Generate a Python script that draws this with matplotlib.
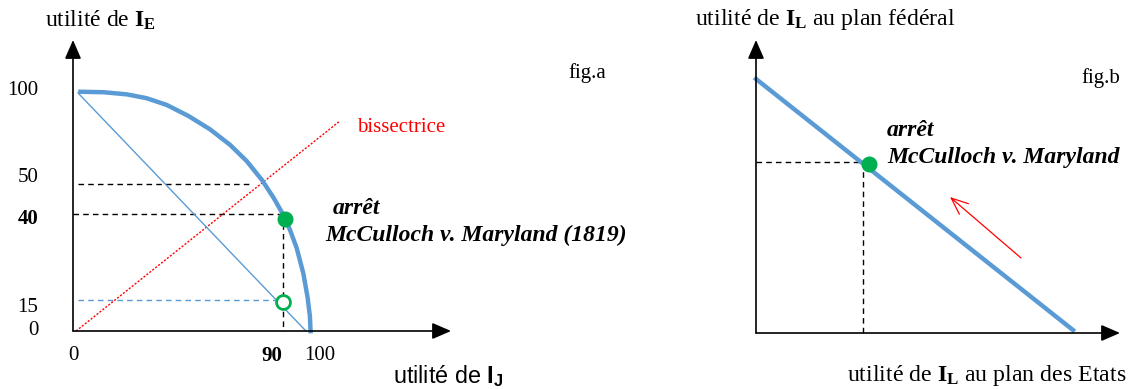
import matplotlib
matplotlib.use("Agg")
import matplotlib.pyplot as plt
from matplotlib.patches import ArrowStyle

plt.rcParams['mathtext.fontset'] = 'custom'
plt.rcParams['mathtext.rm'] = 'Liberation Serif'
plt.rcParams['mathtext.bf'] = 'Liberation Serif:bold'
plt.rcParams['mathtext.sf'] = 'Liberation Sans:bold'
SERIF = 'Liberation Serif'
SANS = 'Liberation Sans'

# ---------------- data (diagram units) ----------------
# fig.a : possibility frontier (utility of I_J, utility of I_E)
frontier_x = [2.2, 12.8, 22.8, 31.2, 39.7, 48.9, 58.1, 66.5, 73.6, 80.0, 85.0, 89.1,
              92.0, 94.8, 97.6, 99.4, 100.4, 100.7]
frontier_y = [99.7, 99.5, 98.6, 97.0, 94.2, 89.6, 84.0, 77.6, 70.8, 63.0, 55.5, 48.4,
              42.0, 34.5, 24.0, 14.0, 6.0, -1.0]
chord_x = [2.1, 98.7]
chord_y = [99.2, 0.0]
bisect_x = [1.3, 113.1]
bisect_y = [0.0, 87.5]
level50_y = 61.25
level40_y = 48.75
level15_y = 12.9
point_x = 89.0
mcc_point = (89.8, 46.7)
open_point = (89.0, 12.1)
yticks_a = [101.25, 65.0, 47.5, 10.8, 1.25]
ylabels_a = ['100', '50', '40', '15', '0']
xticks_a = [0.0, 84.3, 104.7]
xlabels_a = ['0', '90', '100']

# fig.b : federal vs states utility line
line_b_x = [0.0, 87.1]
line_b_y = [86.7, 1.0]
mcc_b_point = (31.0, 57.7)
mcc_b_dash = (29.4, 58.4)
move_from = (72.8, 25.6)
move_to = (53.3, 46.4)

BLUE = '#5B9BD5'
GREEN = '#00B050'
RED = '#FF0000'

W, H = 1136, 389
fig = plt.figure(figsize=(W / 100, H / 100), dpi=100)


def rect(x0, y0, x1, y1):
    return [x0 / W, 1 - y1 / H, (x1 - x0) / W, (y1 - y0) / H]


def axis_arrows(ax, xmax, ymax):
    st = ArrowStyle('-|>', head_length=11.5, head_width=5)
    for end in [(xmax, 0), (0, ymax)]:
        ax.annotate('', xy=end, xytext=(0, 0), xycoords='data',
                    arrowprops=dict(arrowstyle=st, color='black', lw=1.2,
                                    shrinkA=0, shrinkB=0, mutation_scale=1),
                    annotation_clip=False)


# ---------------- fig.a ----------------
axa = fig.add_axes(rect(73, 40, 451, 331))
xa_max, ya_max = (451 - 73) / 2.36, (331 - 40) / 2.4
axa.set_xlim(0, xa_max)
axa.set_ylim(0, ya_max)
for s in axa.spines.values():
    s.set_visible(False)
axa.patch.set_alpha(0)
axa.set_yticks(yticks_a)
axa.set_yticklabels(ylabels_a)
axa.set_xticks(xticks_a)
axa.set_xticklabels(xlabels_a)
axa.tick_params(axis='y', length=0, pad=25)
axa.tick_params(axis='x', length=0, pad=11)
for lab in axa.get_yticklabels() + axa.get_xticklabels():
    lab.set_fontfamily(SERIF)
    lab.set_fontsize(15)
    if lab.get_text() in ('40', '90'):
        lab.set_fontweight('bold')

axa.plot([2.1, 76.3], [level50_y, level50_y], ls=(0, (4, 3)), color='black', lw=1, clip_on=False)
axa.plot([0, point_x], [level40_y, level40_y], ls=(0, (4, 3)), color='black', lw=1, clip_on=False)
axa.plot([point_x, point_x], [level40_y, 0], ls=(0, (4, 3)), color='black', lw=1, clip_on=False)
axa.plot([2.1, 85.6], [level15_y, level15_y], ls=(0, (4, 3)), color=BLUE, lw=1, clip_on=False)
axa.plot(bisect_x, bisect_y, ls=(0, (1.5, 1.2)), color=RED, lw=1, clip_on=False)
axa.plot(chord_x, chord_y, color=BLUE, lw=1, clip_on=False)
axa.plot(frontier_x, frontier_y, color=BLUE, lw=3.2, clip_on=False,
         solid_capstyle='butt', solid_joinstyle='round')
axis_arrows(axa, xa_max, ya_max)
axa.plot(*mcc_point, marker='o', ms=10.5, color=GREEN, clip_on=False)
axa.plot(*open_point, marker='o', ms=10, mfc='white', mec=GREEN, mew=2, clip_on=False)

axa.text((357 - 73) / 2.36, (331 - 127) / 2.4, 'bissectrice', color=RED,
         family=SERIF, fontsize=15, ha='left', va='center')
axa.text((333 - 73) / 2.36, (331 - 209) / 2.4, 'arrêt', family=SERIF, fontsize=17,
         fontweight='bold', style='italic', ha='left', va='center')
axa.text((325 - 73) / 2.36, (331 - 235) / 2.4, 'McCulloch v. Maryland (1819)', family=SERIF,
         fontsize=17, fontweight='bold', style='italic', ha='left', va='center')
axa.text((568 - 73) / 2.36, (331 - 73) / 2.4, 'fig.a', family=SERIF, fontsize=15,
         ha='left', va='center')

fig.text(45 / W, 1 - 20 / H, 'utilité de $\\mathbf{I_E}$', family=SERIF, fontsize=17,
         ha='left', va='center')
fig.text(393 / W, 1 - 376 / H, 'utilité de $\\mathsf{I_J}$', family=SANS, fontsize=16.8,
         ha='left', va='center')

# ---------------- fig.b ----------------
axb = fig.add_axes(rect(756, 40, 1120, 333))
axb.set_xlim(0, 100)
axb.set_ylim(0, 100)
axb.set_axis_off()
axb.plot([0, mcc_b_dash[0]], [mcc_b_dash[1], mcc_b_dash[1]], ls=(0, (4, 3)), color='black', lw=1, clip_on=False)
axb.plot([mcc_b_dash[0], mcc_b_dash[0]], [mcc_b_dash[1], 0], ls=(0, (4, 3)), color='black', lw=1, clip_on=False)
axb.plot(line_b_x, line_b_y, color=BLUE, lw=3.2, clip_on=False)
axb.plot(*mcc_b_point, marker='o', ms=10.5, color=GREEN, clip_on=False)
axis_arrows(axb, 100, 100)
axb.annotate('', xy=move_to, xytext=move_from,
             arrowprops=dict(arrowstyle=ArrowStyle('->', head_length=12, head_width=5),
                             color=RED, lw=0.9, shrinkA=0, shrinkB=0, mutation_scale=1))

axb.text((887 - 756) / 3.64, (333 - 130) / 2.93, 'arrêt', family=SERIF, fontsize=17,
         fontweight='bold', style='italic', ha='left', va='center')
axb.text((887 - 756) / 3.64, (333 - 157) / 2.93, 'McCulloch v. Maryland', family=SERIF,
         fontsize=17, fontweight='bold', style='italic', ha='left', va='center')
axb.text(100, (333 - 78) / 2.93, 'fig.b', family=SERIF, fontsize=15, ha='right', va='center')

fig.text(695 / W, 1 - 19 / H, 'utilité de $\\mathbf{I_L}$ au plan fédéral', family=SERIF,
         fontsize=17.2, ha='left', va='center')
fig.text(847 / W, 1 - 376 / H, 'utilité de $\\mathbf{I_L}$ au plan des Etats', family=SERIF,
         fontsize=17.2, ha='left', va='center')

fig.savefig('out.png', dpi=100)
